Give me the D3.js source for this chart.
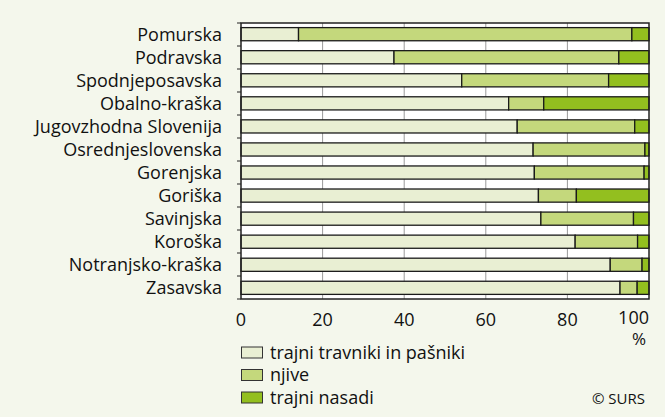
<html>
<head>
<meta charset="utf-8">
<style>
  body{margin:0;background:#f4f7ec;}
  text{font-family:"Open Sans","Noto Sans",sans-serif;fill:#111;}
</style>
</head>
<body>
<svg width="665" height="417"></svg>
<script src="https://cdn.jsdelivr.net/npm/d3@7"></script>
<script>
var regions = ["Pomurska","Podravska","Spodnjeposavska","Obalno-kraška","Jugovzhodna Slovenija",
  "Osrednjeslovenska","Gorenjska","Goriška","Savinjska","Koroška","Notranjsko-kraška","Zasavska"];
var travniki = [14.1, 37.5, 54.1, 65.6, 67.7, 71.6, 71.9, 72.9, 73.5, 81.9, 90.5, 92.9];
var njive    = [81.7, 55.1, 36.0,  8.6, 28.8, 27.4, 26.9,  9.3, 22.7, 15.3,  7.8,  4.2];
var nasadi   = [ 4.2,  7.4,  9.9, 25.8,  3.5,  1.0,  1.2, 17.8,  3.8,  2.8,  1.7,  2.9];
var seriesNames = ["trajni travniki in pašniki","njive","trajni nasadi"];
var colors = ["#e9efd3","#c4d87c","#93bf1f"];
var xTicks = [0,20,40,60,80,100];

var svg = d3.select("svg"),
    margin = {top: 23, right: 16, bottom: 118, left: 241},
    width = +svg.attr("width") - margin.left - margin.right,
    height = +svg.attr("height") - margin.top - margin.bottom,
    g = svg.append("g").attr("transform","translate("+margin.left+","+margin.top+")");

var x = d3.scaleLinear().domain([0,100]).range([0,width]);
var y = d3.scaleBand().domain(regions).range([0,height]).paddingInner(0.43).paddingOuter(0.2);

var data = regions.map(function(r,i){ return {region:r, travniki:travniki[i], njive:njive[i], nasadi:nasadi[i]}; });
var stack = d3.stack().keys(["travniki","njive","nasadi"]);
var layers = stack(data);

// plot background
g.append("rect").attr("width",width).attr("height",height).attr("fill","#fff");

// grid
g.selectAll("line.grid").data(xTicks.slice(1,-1)).enter().append("line")
  .attr("class","grid")
  .attr("x1",function(d){return x(d);}).attr("x2",function(d){return x(d);})
  .attr("y1",0).attr("y2",height)
  .attr("stroke","#9a9a9a").attr("stroke-width",1);

// bars
g.selectAll("g.layer").data(layers).enter().append("g")
  .attr("class","layer")
  .attr("fill",function(d,i){return colors[i];})
  .selectAll("rect").data(function(d){return d;}).enter().append("rect")
    .attr("x",function(d){return x(d[0]);})
    .attr("y",function(d){return y(d.data.region);})
    .attr("width",function(d){return x(d[1])-x(d[0]);})
    .attr("height",y.bandwidth())
    .attr("stroke","#1a1a1a").attr("stroke-width",1.3);

// frame
g.append("rect").attr("width",width).attr("height",height)
  .attr("fill","none").attr("stroke","#222").attr("stroke-width",1.5);

// left ticks at row boundaries
g.selectAll("line.ytick").data(d3.range(regions.length+1)).enter().append("line")
  .attr("class","ytick")
  .attr("x1",-4).attr("x2",0)
  .attr("y1",function(d){return d*height/regions.length;})
  .attr("y2",function(d){return d*height/regions.length;})
  .attr("stroke","#222");

// y labels
g.selectAll("text.ylab").data(regions).enter().append("text")
  .attr("class","ylab")
  .attr("x",-19)
  .attr("y",function(d){return y(d)+y.bandwidth()/2;})
  .attr("dy","0.36em")
  .attr("text-anchor","end")
  .attr("font-size",18)
  .text(function(d){return d;});

// x labels
g.selectAll("text.xlab").data(xTicks).enter().append("text")
  .attr("class","xlab")
  .attr("x",function(d){return x(d);})
  .attr("y",function(d){return d==100?height+25:height+27;})
  .attr("text-anchor",function(d){return d==100?"end":"middle";})
  .attr("font-size",18)
  .text(function(d){return d;});
g.append("text").attr("x",width-3).attr("y",height+46).attr("text-anchor","end")
  .attr("font-size",17).text("%");

// legend
var leg = g.selectAll("g.leg").data(seriesNames).enter().append("g")
  .attr("class","leg")
  .attr("transform",function(d,i){return "translate(0,"+(height+48+i*22.5)+")";});
leg.append("rect").attr("x",0.5).attr("y",0).attr("width",21).attr("height",11)
  .attr("fill",function(d,i){return colors[i];}).attr("stroke","#333").attr("stroke-width",1);
leg.append("text").attr("x",29).attr("y",5.5).attr("dy","0.36em").attr("font-size",18)
  .text(function(d){return d;});

g.append("text").attr("x",width-4).attr("y",height+105).attr("text-anchor","end")
  .attr("font-size",15).text("© SURS");
</script>
</body>
</html>
